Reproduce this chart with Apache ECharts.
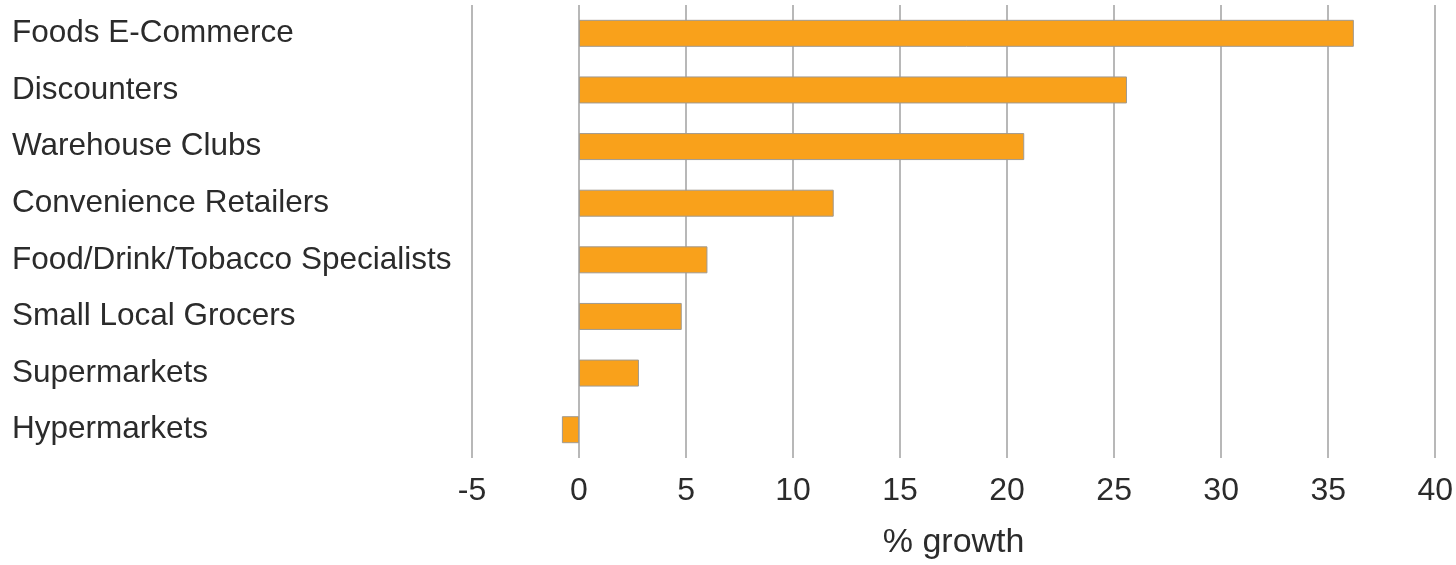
<!DOCTYPE html>
<html>
<head>
<meta charset="utf-8">
<script src="https://cdn.jsdelivr.net/npm/echarts@6/dist/echarts.min.js"></script>
<style>
html,body{margin:0;padding:0;background:#fff;}
#chart{width:1456px;height:565px;}
</style>
</head>
<body>
<div id="chart"></div>
<script>
const categories = [
  "Foods E-Commerce",
  "Discounters",
  "Warehouse Clubs",
  "Convenience Retailers",
  "Food/Drink/Tobacco Specialists",
  "Small Local Grocers",
  "Supermarkets",
  "Hypermarkets"
];
const growth = [36.2, 25.6, 20.8, 11.9, 6.0, 4.8, 2.8, -0.8];
const xAxisTitle = "% growth";

const chart = echarts.init(document.getElementById('chart'), null, {renderer: 'canvas'});
const font = '"Liberation Sans", Arial, Helvetica, sans-serif';
chart.setOption({
  animation: false,
  backgroundColor: '#ffffff',
  grid: {left: 472, right: 19, top: 5, bottom: 107, containLabel: false},
  xAxis: {
    type: 'value',
    min: -5, max: 40, interval: 5,
    name: xAxisTitle,
    nameLocation: 'middle',
    nameGap: 68,
    nameTextStyle: {fontFamily: font, fontSize: 34, color: '#2b2b2b', verticalAlign: 'top'},
    axisLine: {show: false},
    axisTick: {show: false},
    axisLabel: {fontFamily: font, fontSize: 32, color: '#2b2b2b', margin: 17},
    splitLine: {show: true, lineStyle: {color: '#b8b8b8', width: 2}}
  },
  yAxis: {
    type: 'category',
    data: categories,
    inverse: true,
    axisLine: {show: false},
    axisTick: {show: false},
    splitLine: {show: false},
    axisLabel: {fontFamily: font, fontSize: 31.5, color: '#2b2b2b', align: 'left', margin: 460}
  },
  series: [{
    type: 'bar',
    data: growth,
    barWidth: 27,
    itemStyle: {color: '#f9a11b', borderColor: '#a09a90', borderWidth: 1}
  }]
});
</script>
</body>
</html>
